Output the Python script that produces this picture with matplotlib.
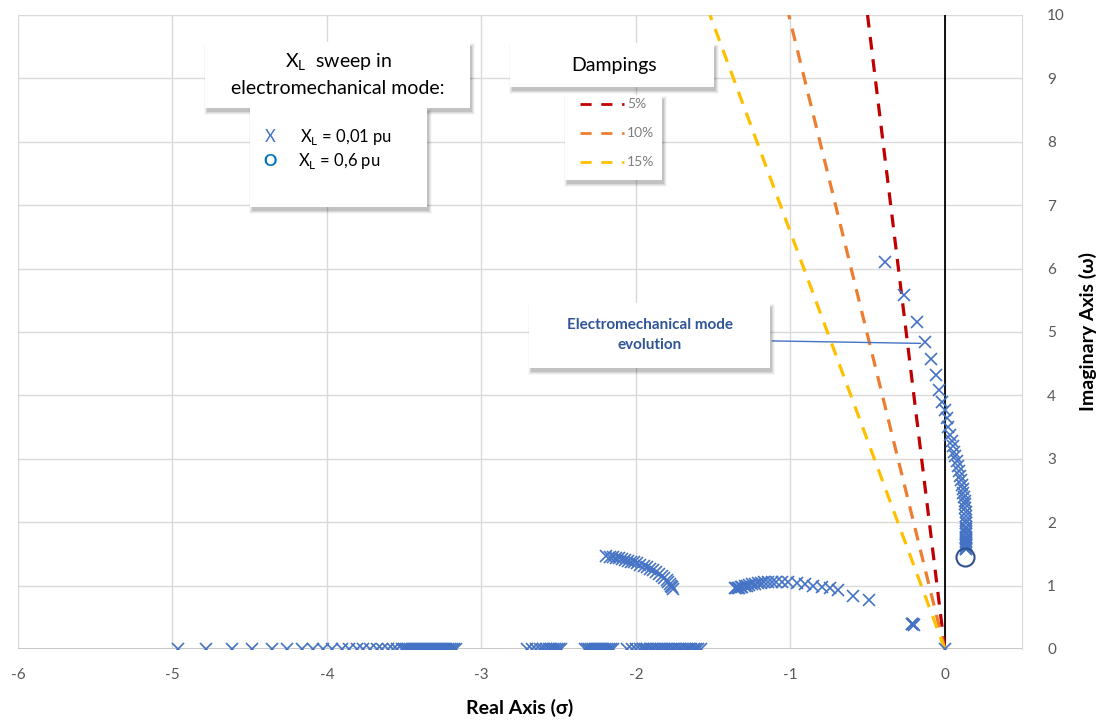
import matplotlib.pyplot as plt
from matplotlib.patches import Rectangle
from matplotlib.lines import Line2D

plt.rcParams['font.family'] = ['Lato', 'DejaVu Sans']
plt.rcParams['axes.unicode_minus'] = False

# ---- data ----
# electromechanical mode branch (X_L sweep)
em_sigma = [-0.388, -0.265, -0.181, -0.129, -0.091, -0.058, -0.035, -0.019, 0.000, 0.013,
            0.019, 0.032, 0.045, 0.052, 0.060, 0.068, 0.078, 0.084, 0.090, 0.097,
            0.104, 0.110, 0.115, 0.119, 0.124, 0.128, 0.131, 0.133, 0.135, 0.136,
            0.136, 0.137, 0.137, 0.137, 0.137, 0.137, 0.137, 0.136, 0.136, 0.136,
            0.136, 0.136, 0.136, 0.135, 0.135, 0.135]
em_omega = [6.10, 5.58, 5.16, 4.84, 4.57, 4.32, 4.08, 3.90, 3.77, 3.64,
            3.50, 3.38, 3.28, 3.20, 3.11, 3.04, 2.97, 2.88, 2.80, 2.73,
            2.66, 2.59, 2.52, 2.46, 2.40, 2.34, 2.28, 2.22, 2.16, 2.10,
            2.04, 1.98, 1.93, 1.89, 1.85, 1.81, 1.77, 1.74, 1.71, 1.68,
            1.66, 1.64, 1.62, 1.60, 1.58, 1.57]

# arc near sigma = -1
b2_sigma = [-0.492, -0.595, -0.693, -0.744, -0.796, -0.854, -0.906, -0.958, -1.016, -1.055,
            -1.090, -1.120, -1.145, -1.170, -1.190, -1.210, -1.230, -1.250, -1.265, -1.280,
            -1.295, -1.310, -1.320, -1.330, -1.340, -1.350, -1.360]
b2_omega = [0.77, 0.84, 0.93, 0.96, 0.98, 1.00, 1.03, 1.04, 1.06, 1.06,
            1.06, 1.06, 1.055, 1.05, 1.045, 1.04, 1.03, 1.02, 1.01, 1.00,
            0.99, 0.98, 0.975, 0.97, 0.965, 0.96, 0.955]

# arc near sigma = -2
b3_sigma = [-2.19, -2.17, -2.15, -2.13, -2.11, -2.09, -2.07, -2.05, -2.03, -2.01,
            -1.99, -1.97, -1.95, -1.93, -1.91, -1.89, -1.87, -1.85, -1.83, -1.815,
            -1.80, -1.79, -1.78, -1.77, -1.765, -1.76]
b3_omega = [1.46, 1.455, 1.45, 1.44, 1.43, 1.42, 1.41, 1.395, 1.38, 1.365,
            1.35, 1.33, 1.31, 1.29, 1.265, 1.24, 1.21, 1.18, 1.15, 1.12,
            1.09, 1.06, 1.03, 1.00, 0.98, 0.95]

# real-axis poles
ra_sigma = [-4.966, -4.783, -4.617, -4.483, -4.358, -4.257, -4.164, -4.089, -4.024, -3.964,
            -3.905, -3.856, -3.808, -3.765, -3.722, -3.678, -3.642, -3.607, -3.575, -3.545,
            -3.516, -3.500, -3.487, -3.474, -3.461, -3.448, -3.435, -3.422, -3.409, -3.396,
            -3.383, -3.370, -3.357, -3.344, -3.331, -3.318, -3.305, -3.292, -3.279, -3.266,
            -3.253, -3.240, -3.227, -3.214, -3.201, -3.188, -3.175, -3.165,
            -2.706, -2.673, -2.647, -2.621, -2.602, -2.583, -2.563, -2.550, -2.537, -2.524,
            -2.511, -2.498, -2.485,
            -2.330, -2.317, -2.304, -2.291, -2.278, -2.265, -2.252, -2.239, -2.226, -2.213,
            -2.200, -2.187, -2.174, -2.162, -2.150,
            -2.058, -2.026, -2.000, -1.974, -1.955, -1.940, -1.925, -1.910, -1.895, -1.880,
            -1.865, -1.850, -1.835, -1.820, -1.805, -1.790, -1.775, -1.760, -1.745, -1.730,
            -1.715, -1.700, -1.685, -1.670, -1.655, -1.640, -1.625, -1.610, -1.595, -1.580]

# other isolated poles
iso_sigma = [-0.215, -0.210, -0.205, -0.200, 0.0]
iso_omega = [0.400, 0.395, 0.390, 0.385, 0.0]

# pole at X_L = 0,6 pu
end_sigma = [0.134]
end_omega = [1.456]

# damping lines: sigma reached at omega = 10
damp_labels = ['5%', '10%', '15%']
damp_sigma_top = [-0.50, -1.01, -1.52]
damp_colors = ['#C00000', '#ED7D31', '#FFC000']
omega_top = 10

xticks = [-6, -5, -4, -3, -2, -1, 0]
yticks = list(range(0, 11))

# ---- figure ----
W, H = 1103, 722
fig = plt.figure(figsize=(W / 100, H / 100), dpi=100)
ax = fig.add_axes([18 / W, 1 - 649 / H, (1022 - 18) / W, (649 - 15) / H])

ax.set_xlim(-6, 0.5)
ax.set_ylim(0, 10)
ax.set_xticks(xticks)
ax.set_yticks(yticks)
ax.grid(True, color='#D9D9D9', lw=1)
ax.set_axisbelow(True)
for s in ['left', 'top', 'bottom']:
    ax.spines[s].set_visible(False)
ax.spines['right'].set_color('#D9D9D9')
ax.axhline(0, color='#BFBFBF', lw=1.2, zorder=1)
ax.axvline(0, color='black', lw=1.3, zorder=2)

ax.yaxis.tick_right()
ax.tick_params(length=0, labelsize=11, labelcolor='#595959')
ax.tick_params(axis='y', pad=18)
ax.tick_params(axis='x', pad=14)

for st, c in zip(damp_sigma_top, damp_colors):
    ax.plot([0, st], [0, omega_top], color=c, lw=2.3, dashes=(4, 3), zorder=3)

mk = dict(ls='none', marker='x', ms=8.5, mew=1.2, color='#4472C4', zorder=4)
ax.plot(ra_sigma, [0] * len(ra_sigma), **mk)
ax.plot(b3_sigma, b3_omega, **mk)
ax.plot(b2_sigma, b2_omega, **mk)
ax.plot(em_sigma, em_omega, **mk)
ax.plot(iso_sigma, iso_omega, **mk)
ax.plot(end_sigma, end_omega, ls='none', marker='o', ms=13, mfc='none',
        mec='#2F528F', mew=1.5, zorder=5)

ax.set_xlabel('Real Axis (σ)', fontsize=14, fontweight='bold', labelpad=12)
ax.yaxis.set_label_position('right')
ax.set_ylabel('Imaginary Axis (ω)', fontsize=14, fontweight='bold', labelpad=10)

# annotation leader line
ax.annotate('', xy=(em_sigma[3] - 0.01, em_omega[3] - 0.02), xytext=(-1.135, 4.86),
            arrowprops=dict(arrowstyle='-', color='#4472C4', lw=1), zorder=6)


def fx(x):
    return x / W


def fy(y):
    return 1 - y / H


def box(x0, y0, x1, y1):
    for i, a in enumerate([0.10, 0.07, 0.05, 0.03]):
        fig.add_artist(Rectangle((fx(x0 + 2 - i), fy(y1 + 4 + i)),
                                 (x1 - x0 + 2 * i) / W, (y1 - y0 + 2 * i) / H,
                                 transform=fig.transFigure, fc='black', ec='none',
                                 alpha=a, zorder=10))
    fig.add_artist(Rectangle((fx(x0), fy(y1)), (x1 - x0) / W, (y1 - y0) / H,
                             transform=fig.transFigure, fc='white', ec='none', zorder=11))


# X_L legend
box(250, 108, 427, 207)
box(205, 42, 470, 108)
fig.text(fx(338), fy(62), r'X$_\mathregular{L}$  sweep in', fontsize=14, ha='center', va='center', zorder=12)
fig.text(fx(338), fy(88), 'electromechanical mode:', fontsize=14, ha='center', va='center', zorder=12)
fig.text(fx(270), fy(137), 'X', fontsize=12, color='#4472C4', ha='center', va='center', zorder=12)
fig.text(fx(300), fy(137), r'X$_\mathregular{L}$ = 0,01 pu', fontsize=12, ha='left', va='center', zorder=12)
fig.text(fx(270), fy(161), 'O', fontsize=12, color='#0070C0', fontweight='bold', ha='center', va='center', zorder=12)
fig.text(fx(298), fy(161), r'X$_\mathregular{L}$ = 0,6 pu', fontsize=12, ha='left', va='center', zorder=12)

# damping legend
box(565, 95, 662, 180)
box(510, 43, 714, 87)
fig.text(fx(614), fy(66), 'Dampings', fontsize=14, ha='center', va='center', zorder=12)
for i, (lab, c) in enumerate(zip(damp_labels, damp_colors)):
    yy = fy(104 + 29 * i)
    fig.add_artist(Line2D([fx(580), fx(624)], [yy, yy], transform=fig.transFigure,
                          color=c, lw=2, dashes=(4, 3.5), zorder=12))
    fig.text(fx(627), yy, lab, fontsize=10, color='#7F7F7F', ha='left', va='center', zorder=12)

# annotation box
box(529, 303, 770, 368)
fig.text(fx(650), fy(335), 'Electromechanical mode\nevolution', fontsize=11, fontweight='bold',
         color='#2F5597', ha='center', va='center', linespacing=1.6, zorder=12)

fig.savefig('out.png', dpi=100)
